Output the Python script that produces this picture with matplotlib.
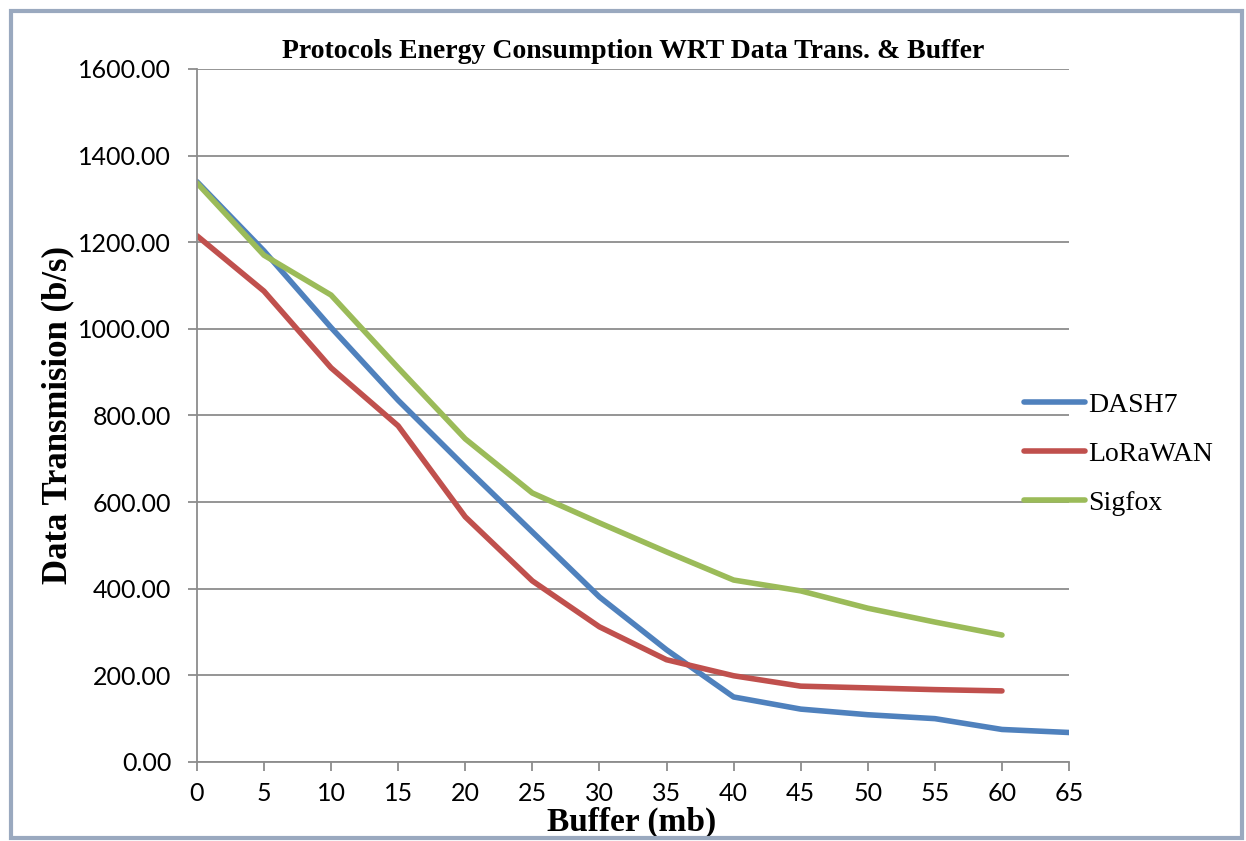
import matplotlib.pyplot as plt
from matplotlib.patches import Rectangle

buffer_mb = [0, 5, 10, 15, 20, 25, 30, 35, 40, 45, 50, 55, 60, 65]

dash7 = [1340, 1180, 1003, 835, 681, 531, 381, 259, 150, 122, 109, 100, 75, 68]
lorawan = [1215, 1087, 910, 776, 566, 418, 312, 236, 199, 175, 171, 167, 164]
sigfox = [1337, 1170, 1078, 910, 746, 621, 552, 485, 420, 395, 355, 323, 293]

fig = plt.figure(figsize=(12.46, 8.41), dpi=100)
ax = fig.add_axes([0.158, 0.094, 0.7, 0.824])

# outer chart frame
fig.patches.append(Rectangle((0.009, 0.004), 0.988, 0.983, transform=fig.transFigure,
                             fill=False, edgecolor='#9aa9bf', linewidth=3))

lw = 4
ax.plot(buffer_mb[:len(dash7)], dash7, color='#4F81BD', lw=lw, label='DASH7', solid_capstyle='round')
ax.plot(buffer_mb[:len(lorawan)], lorawan, color='#C0504D', lw=lw, label='LoRaWAN', solid_capstyle='round')
ax.plot(buffer_mb[:len(sigfox)], sigfox, color='#9BBB59', lw=lw, label='Sigfox', solid_capstyle='round')

ax.set_xlim(0, 65)
ax.set_ylim(0, 1600)
ax.set_xticks(buffer_mb)
ax.set_yticks(range(0, 1601, 200))
ax.set_yticklabels([f'{v:.2f}' for v in range(0, 1601, 200)])

ax.grid(axis='y', color='#8c8c8c', lw=1.3)
ax.set_axisbelow(True)
for s in ['top', 'right']:
    ax.spines[s].set_visible(False)
for s in ['left', 'bottom']:
    ax.spines[s].set_color('#8c8c8c')
    ax.spines[s].set_linewidth(1.3)
ax.tick_params(axis='both', color='#8c8c8c', width=1.3, length=6.5, labelsize=18,
               direction='out')
ax.tick_params(axis='x', pad=8)
ax.tick_params(axis='y', pad=12)
for lab in ax.get_xticklabels() + ax.get_yticklabels():
    lab.set_fontfamily('Lato')

ax.set_title('Protocols Energy Consumption WRT Data Trans. & Buffer',
             fontfamily='Liberation Serif', fontweight='bold', fontsize=20, pad=8)
ax.set_ylabel('Data Transmision (b/s)', fontfamily='Liberation Serif',
              fontweight='bold', fontsize=25)
ax.yaxis.set_label_coords(-0.140, 0.5)
ax.set_xlabel('Buffer (mb)', fontfamily='Liberation Serif', fontweight='bold',
              fontsize=24)
ax.xaxis.set_label_coords(0.499, -0.064)

ax.legend(loc='center left', bbox_to_anchor=(0.92, 0.444), frameon=False,
          prop={'family': 'Liberation Serif', 'size': 20}, handlelength=2.2,
          handletextpad=0.1, labelspacing=0.85)

fig.savefig('out.png', dpi=100)
